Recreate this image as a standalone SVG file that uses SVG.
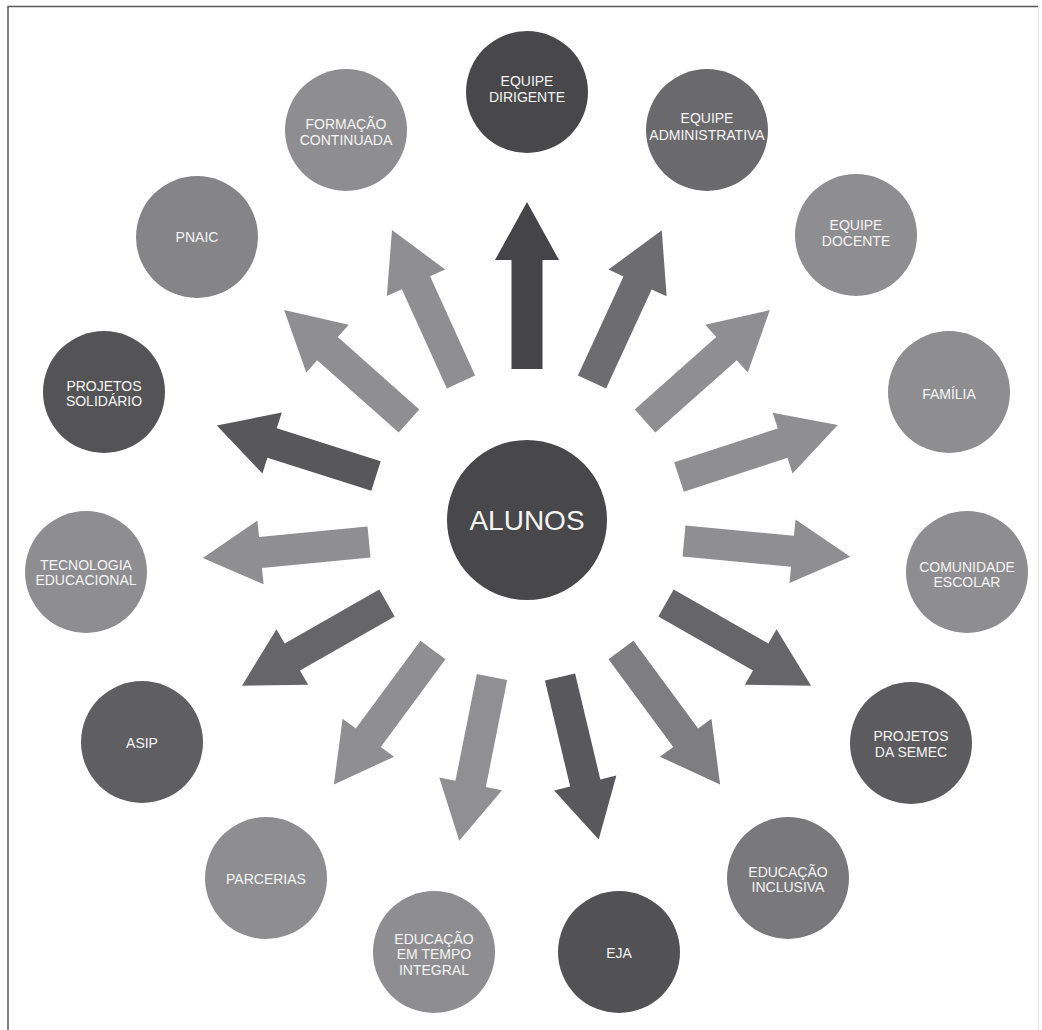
<svg xmlns="http://www.w3.org/2000/svg" width="1042" height="1030" viewBox="0 0 1042 1030">
<defs>
<style>
.lbl{font-family:"Liberation Sans",Arial,Helvetica,sans-serif;font-size:14px;fill:#f4f4f4;text-anchor:middle}
.big{font-size:28px}
.frame{stroke:#5a5a5a;stroke-width:1.5;fill:none}
</style>
<path id="arr" d="M0,-15.5 H109 V-32 L167,0 L109,32 V15.5 H0 Z"/>
</defs>
<rect width="1042" height="1030" fill="#ffffff"/>
<path class="frame" d="M8,1030 V6.5 H1038"/>
<line x1="1038.5" y1="6" x2="1038.5" y2="1030" stroke="#e2e2e2" stroke-width="1"/>

<g id="connectors">
<use href="#arr" fill="#454547" transform="translate(527,369) rotate(-90)"/>
<use href="#arr" fill="#6d6d6f" transform="translate(592,382) rotate(-65.3)"/>
<use href="#arr" fill="#8f8f91" transform="translate(461,382) rotate(-114.4)"/>
<use href="#arr" fill="#8f8f91" transform="translate(409,421) rotate(-138.4)"/>
<use href="#arr" fill="#8f8f91" transform="translate(645,421) rotate(-41.6)"/>
<use href="#arr" fill="#58585a" transform="translate(376,476) rotate(-162.4)"/>
<use href="#arr" fill="#8f8f91" transform="translate(679,477) rotate(-18.1)"/>
<use href="#arr" fill="#8f8f91" transform="translate(369,542) rotate(174.5)"/>
<use href="#arr" fill="#8f8f91" transform="translate(684,541) rotate(5.4)"/>
<use href="#arr" fill="#666668" transform="translate(387,603) rotate(150.3)"/>
<use href="#arr" fill="#666668" transform="translate(666,603) rotate(29.7)"/>
<use href="#arr" fill="#8f8f91" transform="translate(433,650) rotate(126.4)"/>
<use href="#arr" fill="#7e7e80" transform="translate(621,650) rotate(53.6)"/>
<use href="#arr" fill="#909092" transform="translate(492,677) rotate(101.3)"/>
<use href="#arr" fill="#59595b" transform="translate(560,677) rotate(76.6)"/>
</g>

<g id="alunos">
<circle cx="527" cy="520" r="80" fill="#48484a"/>
<text class="lbl big" x="527" y="530">ALUNOS</text>
</g>

<g id="equipe-dirigente">
<circle cx="527" cy="92" r="61" fill="#48484a"/>
<text class="lbl" x="527" y="86">EQUIPE</text>
<text class="lbl" x="527" y="102">DIRIGENTE</text>
</g>

<g id="equipe-administrativa">
<circle cx="707" cy="130" r="61" fill="#6a6a6c"/>
<text class="lbl" x="707" y="123">EQUIPE</text>
<text class="lbl" x="707" y="140">ADMINISTRATIVA</text>
</g>

<g id="formacao-continuada">
<circle cx="346" cy="130" r="61" fill="#8e8e90"/>
<text class="lbl" x="346" y="129">FORMAÇÃO</text>
<text class="lbl" x="346" y="145">CONTINUADA</text>
</g>

<g id="pnaic">
<circle cx="197" cy="237" r="61" fill="#858587"/>
<text class="lbl" x="197" y="242">PNAIC</text>
</g>

<g id="equipe-docente">
<circle cx="856" cy="235" r="61" fill="#8e8e90"/>
<text class="lbl" x="856" y="230">EQUIPE</text>
<text class="lbl" x="856" y="246">DOCENTE</text>
</g>

<g id="projetos-solidario">
<circle cx="104" cy="392" r="61" fill="#545456"/>
<text class="lbl" x="104" y="391">PROJETOS</text>
<text class="lbl" x="104" y="406">SOLIDÁRIO</text>
</g>

<g id="familia">
<circle cx="949" cy="392" r="61" fill="#8e8e90"/>
<text class="lbl" x="949" y="399">FAMÍLIA</text>
</g>

<g id="tecnologia-educacional">
<circle cx="86" cy="572" r="61" fill="#8e8e90"/>
<text class="lbl" x="86" y="570">TECNOLOGIA</text>
<text class="lbl" x="86" y="585">EDUCACIONAL</text>
</g>

<g id="comunidade-escolar">
<circle cx="967" cy="572" r="61" fill="#8e8e90"/>
<text class="lbl" x="967" y="572">COMUNIDADE</text>
<text class="lbl" x="967" y="587">ESCOLAR</text>
</g>

<g id="asip">
<circle cx="142" cy="742" r="61" fill="#5f5f61"/>
<text class="lbl" x="142" y="748">ASIP</text>
</g>

<g id="projetos-semec">
<circle cx="911" cy="743" r="61" fill="#5c5c5e"/>
<text class="lbl" x="911" y="741">PROJETOS</text>
<text class="lbl" x="911" y="757">DA SEMEC</text>
</g>

<g id="parcerias">
<circle cx="266" cy="878" r="61" fill="#8e8e90"/>
<text class="lbl" x="266" y="884">PARCERIAS</text>
</g>

<g id="educacao-inclusiva">
<circle cx="788" cy="878" r="61" fill="#79797b"/>
<text class="lbl" x="788" y="877">EDUCAÇÃO</text>
<text class="lbl" x="788" y="892">INCLUSIVA</text>
</g>

<g id="educacao-tempo-integral">
<circle cx="434" cy="952" r="61" fill="#8e8e90"/>
<text class="lbl" x="434" y="944">EDUCAÇÃO</text>
<text class="lbl" x="434" y="959">EM TEMPO</text>
<text class="lbl" x="434" y="975">INTEGRAL</text>
</g>

<g id="eja">
<circle cx="619" cy="952" r="61" fill="#525254"/>
<text class="lbl" x="619" y="958">EJA</text>
</g>
</svg>
